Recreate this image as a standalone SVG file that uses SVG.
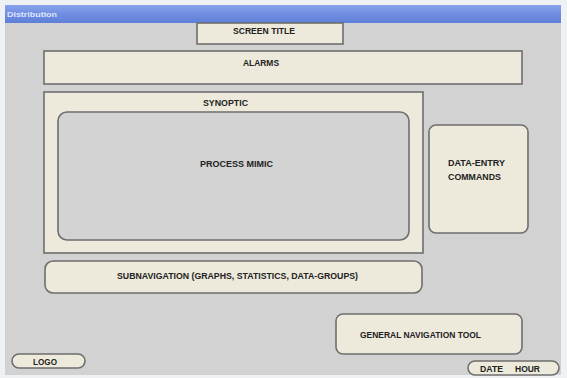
<svg xmlns="http://www.w3.org/2000/svg" width="567" height="378" viewBox="0 0 567 378">
<defs>
<linearGradient id="tb" x1="0" y1="0" x2="0" y2="1">
<stop offset="0" stop-color="#8aa3ea"/>
<stop offset="0.5" stop-color="#6f8de2"/>
<stop offset="1" stop-color="#5f7fd8"/>
</linearGradient>
<style>
.box{fill:#edeadc;stroke:#6e6e6e;stroke-width:1.6}
.inner{fill:#d3d3d3;stroke:#6e6e6e;stroke-width:1.6}
.t{font-family:"Liberation Sans",Arial,sans-serif;font-weight:bold;font-size:9.8px;fill:#222222}
</style>
</defs>
<rect x="0" y="0" width="567" height="378" fill="#eef2f4"/>
<rect x="5" y="5" width="556" height="370" fill="#d2d2d2"/>
<rect x="5" y="5" width="556" height="18" fill="url(#tb)"/>
<text x="7" y="17" font-family="Liberation Sans,Arial,sans-serif" font-size="8" font-weight="bold" fill="#dfe6fb" textLength="50" lengthAdjust="spacingAndGlyphs">Distribution</text>

<g id="screen-title">
<rect class="box" x="197" y="23" width="146" height="21"/>
<text class="t" x="233" y="33.8" textLength="62" lengthAdjust="spacingAndGlyphs">SCREEN TITLE</text>
</g>
<g id="alarms">
<rect class="box" x="44" y="51" width="478" height="33"/>
<text class="t" x="243" y="65.8" textLength="36" lengthAdjust="spacingAndGlyphs">ALARMS</text>
</g>
<g id="synoptic">
<rect class="box" x="44" y="92" width="379" height="161"/>
<text class="t" x="203" y="105.8" textLength="45" lengthAdjust="spacingAndGlyphs">SYNOPTIC</text>
</g>
<g id="process-mimic">
<rect class="inner" x="58" y="112" width="351" height="128" rx="9" ry="9"/>
<text class="t" x="200" y="166.8" textLength="73" lengthAdjust="spacingAndGlyphs">PROCESS MIMIC</text>
</g>
<g id="data-entry">
<rect class="box" x="429" y="125" width="99" height="108" rx="7" ry="7"/>
<text class="t" x="448" y="166" textLength="57" lengthAdjust="spacingAndGlyphs">DATA-ENTRY</text>
<text class="t" x="448" y="180" textLength="53" lengthAdjust="spacingAndGlyphs">COMMANDS</text>
</g>
<g id="subnavigation">
<rect class="box" x="45" y="261" width="377" height="32" rx="8" ry="8"/>
<text class="t" x="117" y="278.8" textLength="241" lengthAdjust="spacingAndGlyphs">SUBNAVIGATION (GRAPHS, STATISTICS, DATA-GROUPS)</text>
</g>
<g id="general-navigation">
<rect class="box" x="336" y="314" width="186" height="40" rx="7" ry="7"/>
<text class="t" x="360" y="338" textLength="121" lengthAdjust="spacingAndGlyphs">GENERAL NAVIGATION TOOL</text>
</g>
<g id="logo">
<rect class="box" x="12" y="354" width="73" height="14" rx="7" ry="7"/>
<text class="t" x="33" y="364.5" textLength="24" lengthAdjust="spacingAndGlyphs">LOGO</text>
</g>
<g id="date-hour">
<rect class="box" x="468" y="361" width="91" height="14" rx="7" ry="7"/>
<text class="t" y="371.5"><tspan x="480" textLength="23" lengthAdjust="spacingAndGlyphs">DATE</tspan><tspan x="515" textLength="25" lengthAdjust="spacingAndGlyphs">HOUR</tspan></text>
</g>
<g id="connectors"/>
</svg>
